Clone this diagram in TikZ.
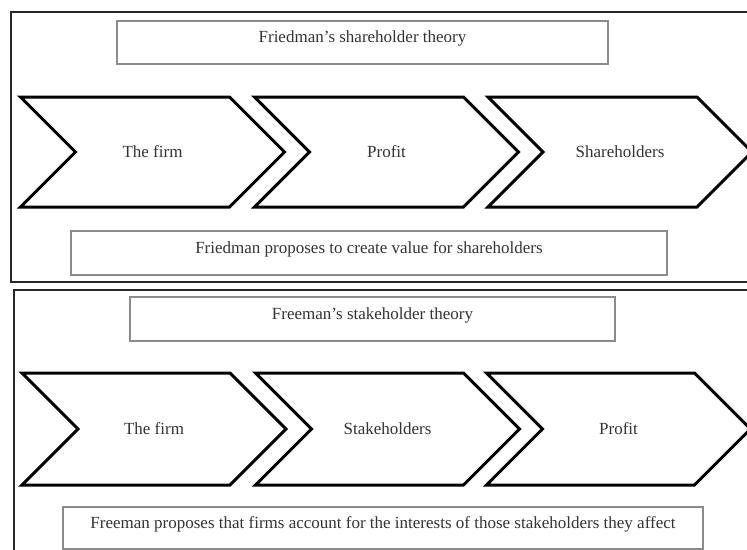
\documentclass[tikz,border=0pt]{standalone}
\usepackage{fontspec}
\setmainfont{Liberation Serif}
\usetikzlibrary{shapes.symbols}

\begin{document}
\begin{tikzpicture}[x=1pt, y=-1pt, font=\fontsize{17}{19}\selectfont,
  frame/.style={draw=black!85, line width=2.4pt},
  textbox/.style={shape=rectangle, draw=black!45, line width=1.3pt, inner sep=0pt, text height=11pt, text depth=11pt, text=black!80},
  chevron/.style={shape=signal, signal from=west, signal to=east, draw=black, line width=3pt, minimum height=110pt, minimum width=264pt, inner sep=0pt, text=black!80}]
\useasboundingbox (0,0) rectangle (747,549);
\draw[frame] (11,12) rectangle (770,282);
\draw[frame] (14,290) rectangle (770,580);
\node[textbox, minimum width=491pt, minimum height=43pt] (T) at (362.5,42.5) {Friedman's shareholder theory};
\node[chevron] (T1) at (152.5,152) {The firm};
\node[chevron] (T2) at (386.5,152) {Profit};
\node[chevron] (T3) at (620,152) {Shareholders};
\node[textbox, minimum width=596pt, minimum height=44pt] (TN) at (369,253) {Friedman proposes to create value for shareholders};
\node[textbox, minimum width=485pt, minimum height=44pt] (B) at (372.5,319) {Freeman's stakeholder theory};
\node[chevron, minimum height=112pt] (B1) at (154,429) {The firm};
\node[chevron, minimum height=112pt] (B2) at (387.5,429) {Stakeholders};
\node[chevron, minimum height=112pt] (B3) at (618.5,429) {Profit};
\node[textbox, minimum width=640pt, minimum height=42pt] (BN) at (383,528) {Freeman proposes that firms account for the interests of those stakeholders they affect};
\end{tikzpicture}
\end{document}
